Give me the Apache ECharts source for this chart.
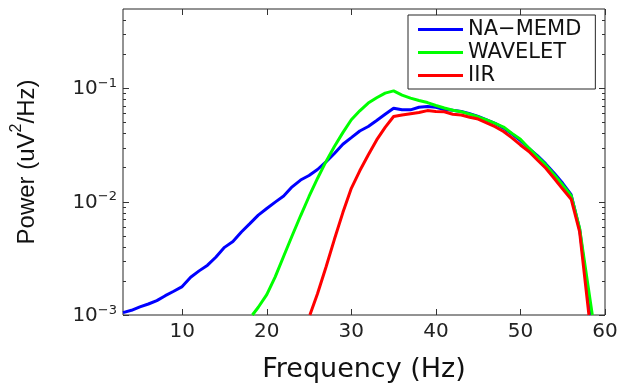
<!DOCTYPE html>
<html>
<head>
<meta charset="utf-8">
<script src="https://cdn.jsdelivr.net/npm/echarts@6/dist/echarts.min.js"></script>
<style>html,body{margin:0;padding:0;background:#fff;}#c{width:620px;height:385px;}</style>
</head>
<body>
<div id="c"></div>
<script>
const seriesNames = ['NA\u2212MEMD', 'WAVELET', 'IIR'];
const xTicks = [10, 20, 30, 40, 50, 60];
const yMajorTicks = [0.001, 0.01, 0.1];
const yMinorTicks = [0.002,0.003,0.004,0.005,0.006,0.007,0.008,0.009,0.02,0.03,0.04,0.05,0.06,0.07,0.08,0.09,0.2,0.3,0.4];

const memdFreq = [3,4,5,6,7,8,9,10,11,12,13,14,15,16,17,18,19,20,21,22,23,24,25,26,27,28,29,30,31,32,33,34,35,36,37,38,39,40,41,42,43,44,45,46,47,48,49,50,51,52,53,54,55,56,57,58.3];
const memdPow = [1.05e-3,1.1e-3,1.18e-3,1.25e-3,1.34e-3,1.48e-3,1.62e-3,1.78e-3,2.15e-3,2.45e-3,2.75e-3,3.25e-3,3.95e-3,4.45e-3,5.4e-3,6.4e-3,7.6e-3,8.7e-3,9.9e-3,0.0112,0.0135,0.0155,0.017,0.0192,0.0224,0.0266,0.0321,0.0367,0.042,0.046,0.052,0.059,0.0667,0.0645,0.0645,0.068,0.069,0.068,0.065,0.064,0.0625,0.0597,0.0565,0.0527,0.049,0.0445,0.0395,0.0345,0.0295,0.0255,0.0215,0.0178,0.0145,0.0115,0.0057,0.001];

const waveFreq = [18.3,19,20,21,22,23,24,25,26,27,28,29,30,31,32,33,34,35,36,37,38,39,40,41,42,43,44,45,46,47,48,49,50,51,52,53,54,55,56,57,58.5];
const wavePow = [1e-3,1.17e-3,1.51e-3,2.17e-3,3.3e-3,5.0e-3,7.5e-3,0.0111,0.016,0.0225,0.0306,0.0406,0.0527,0.0632,0.074,0.0824,0.0906,0.0948,0.087,0.0818,0.078,0.0748,0.0705,0.067,0.064,0.062,0.059,0.056,0.0525,0.049,0.0455,0.040,0.0355,0.0296,0.025,0.0211,0.0173,0.014,0.0113,0.0058,0.001];

const iirFreq = [25.1,26,27,28,29,30,31,32,33,34,35,36,37,38,39,40,41,42,43,44,45,46,47,48,49,50,51,52,53,54,55,56,57,58.1];
const iirPow = [1e-3,1.54e-3,2.64e-3,4.65e-3,8.0e-3,0.0131,0.0187,0.0258,0.035,0.0452,0.0563,0.058,0.0595,0.061,0.0635,0.0625,0.062,0.059,0.058,0.0555,0.0535,0.0495,0.0458,0.0415,0.0365,0.0316,0.0277,0.0233,0.0197,0.016,0.0129,0.0105,0.0054,0.001];

const colors = ['#0000ff', '#00ff00', '#ff0000'];
const pairs = (f, v) => f.map((x, i) => [x, v[i]]);
const seriesData = [pairs(memdFreq, memdPow), pairs(waveFreq, wavePow), pairs(iirFreq, iirPow)];

const X_MIN = 3, X_MAX = 60, Y_MIN = 0.001, Y_MAX = 0.5;
const axisColor = '#262626';
const tickColor = '#333';
const font = 'DejaVu Sans';

function yLabel(v) {
  const l = Math.log10(v);
  const e = Math.round(l);
  if (Math.abs(l - e) > 1e-6) return '';
  return '{b|10}{s|' + (e < 0 ? '\u2212' : '') + Math.abs(e) + '}';
}

const chart = echarts.init(document.getElementById('c'), null, {renderer: 'canvas'});
const lineSeries = seriesNames.map((n, i) => ({
  name: n, type: 'line', xAxisIndex: 0, yAxisIndex: 0,
  data: seriesData[i], symbol: 'none', showSymbol: false, smooth: false, clip: true,
  lineStyle: {width: 3, color: colors[i]}, itemStyle: {color: colors[i]}
}));
function yTickSeries(name, values, len) {
  return {
    name: name, type: 'custom', xAxisIndex: 0, yAxisIndex: 0, silent: true, clip: false, z: 5,
    data: values.map(v => [X_MIN, v]),
    renderItem: function (params, api) {
      const v = api.value(1);
      const pl = api.coord([X_MIN, v]);
      const pr = api.coord([X_MAX, v]);
      const y = Math.round(pl[1]) + 0.5;
      const st = {stroke: tickColor, lineWidth: 1};
      return {type: 'group', children: [
        {type: 'line', shape: {x1: pl[0], y1: y, x2: pl[0] + len, y2: y}, style: st},
        {type: 'line', shape: {x1: pr[0] - len, y1: y, x2: pr[0], y2: y}, style: st}
      ]};
    }
  };
}
chart.setOption({
  animation: false,
  color: colors,
  grid: {left: 123, right: 15, top: 9, bottom: 70, outerBoundsMode: 'none', containLabel: false,
    show: true, borderColor: axisColor, borderWidth: 1, backgroundColor: '#fff'},
  legend: {
    orient: 'vertical', left: 408, top: 15,
    data: seriesNames,
    icon: 'rect',
    itemWidth: 45, itemHeight: 3, itemGap: 0,
    padding: [3, 14, 2, 10],
    borderColor: axisColor, borderWidth: 1, borderRadius: 0, backgroundColor: '#fff',
    textStyle: {fontFamily: font, fontSize: 21, color: '#111', lineHeight: 23}
  },
  xAxis: [{
    type: 'value', min: X_MIN, max: X_MAX, position: 'bottom',
    axisLine: {show: false}, splitLine: {show: false},
    axisTick: {show: true, inside: true, length: 6, customValues: xTicks, lineStyle: {color: tickColor}},
    axisLabel: {customValues: xTicks, margin: 7, fontFamily: font, fontSize: 20, color: '#222'},
    name: 'Frequency (Hz)', nameLocation: 'middle', nameGap: 41,
    nameTextStyle: {fontFamily: font, fontSize: 27, color: '#111'}
  }, {
    type: 'value', min: X_MIN, max: X_MAX, position: 'top',
    axisLine: {show: false}, splitLine: {show: false},
    axisTick: {show: true, inside: true, length: 6, customValues: xTicks, lineStyle: {color: tickColor}},
    axisLabel: {show: false}
  }],
  yAxis: [{
    type: 'log', logBase: 10, min: Y_MIN, max: Y_MAX, position: 'left',
    axisLine: {show: false}, splitLine: {show: false}, minorTick: {show: false},
    axisTick: {show: false},
    axisLabel: {
      formatter: yLabel, margin: 6,
      rich: {
        b: {fontFamily: font, fontSize: 20, color: '#222', lineHeight: 22, verticalAlign: 'bottom'},
        s: {fontFamily: font, fontSize: 13, color: '#222', lineHeight: 17, verticalAlign: 'top'}
      }
    },
    name: '{a|Power (uV}{s|2}{a|/Hz)}', nameLocation: 'middle', nameGap: 84, nameRotate: 90,
    nameTextStyle: {
      rich: {
        a: {fontFamily: 'Liberation Sans', fontSize: 24, color: '#111', lineHeight: 30, verticalAlign: 'bottom'},
        s: {fontFamily: 'Liberation Sans', fontSize: 16, color: '#111', lineHeight: 20, verticalAlign: 'top'}
      }
    }
  }],
  series: lineSeries.concat([
    yTickSeries('majorTicks', yMajorTicks, 6),
    yTickSeries('minorTicks', yMinorTicks, 3)
  ])
});
</script>
</body>
</html>
